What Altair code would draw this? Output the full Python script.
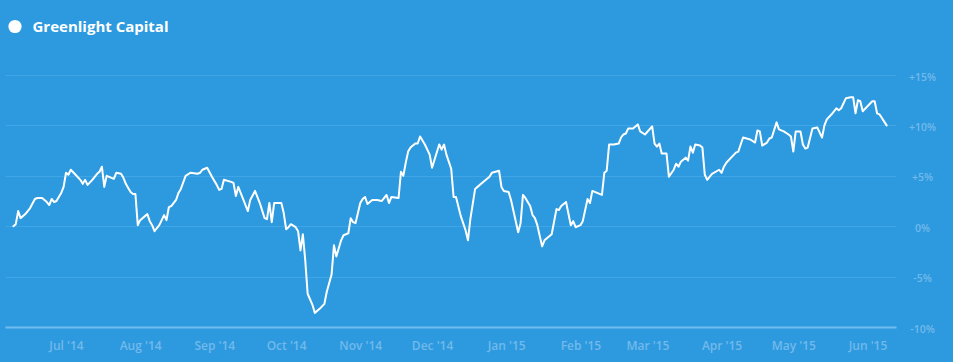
import altair as alt
import pandas as pd

series_name = "Greenlight Capital"

dates = [
    "2014-06-09", "2014-06-10", "2014-06-11", "2014-06-12", "2014-06-14", "2014-06-16", "2014-06-18", "2014-06-19",
    "2014-06-21", "2014-06-22", "2014-06-23", "2014-06-24", "2014-06-25", "2014-06-26", "2014-06-27", "2014-06-29",
    "2014-06-30", "2014-07-01", "2014-07-02", "2014-07-03", "2014-07-05", "2014-07-07", "2014-07-08", "2014-07-09",
    "2014-07-10", "2014-07-12", "2014-07-14", "2014-07-15", "2014-07-16", "2014-07-17", "2014-07-18", "2014-07-20",
    "2014-07-21", "2014-07-22", "2014-07-24", "2014-07-25", "2014-07-26", "2014-07-27", "2014-07-28", "2014-07-29",
    "2014-07-30", "2014-07-31", "2014-08-01", "2014-08-03", "2014-08-04", "2014-08-05", "2014-08-06", "2014-08-07",
    "2014-08-09", "2014-08-10", "2014-08-11", "2014-08-12", "2014-08-13", "2014-08-14", "2014-08-16", "2014-08-17",
    "2014-08-18", "2014-08-20", "2014-08-22", "2014-08-25", "2014-08-26", "2014-08-27", "2014-08-29", "2014-08-31",
    "2014-09-02", "2014-09-03", "2014-09-04", "2014-09-05", "2014-09-08", "2014-09-09", "2014-09-10", "2014-09-11",
    "2014-09-13", "2014-09-15", "2014-09-16", "2014-09-18", "2014-09-20", "2014-09-22", "2014-09-23", "2014-09-24",
    "2014-09-25", "2014-09-26", "2014-09-29", "2014-09-30", "2014-10-01", "2014-10-02", "2014-10-03", "2014-10-05",
    "2014-10-06", "2014-10-07", "2014-10-08", "2014-10-09", "2014-10-10", "2014-10-12", "2014-10-13", "2014-10-15",
    "2014-10-17", "2014-10-18", "2014-10-20", "2014-10-21", "2014-10-22", "2014-10-24", "2014-10-25", "2014-10-27",
    "2014-10-28", "2014-10-29", "2014-10-30", "2014-11-01", "2014-11-02", "2014-11-03", "2014-11-04", "2014-11-06",
    "2014-11-08", "2014-11-10", "2014-11-11", "2014-11-12", "2014-11-13", "2014-11-14", "2014-11-17", "2014-11-18",
    "2014-11-19", "2014-11-20", "2014-11-21", "2014-11-22", "2014-11-24", "2014-11-25", "2014-11-26", "2014-11-28",
    "2014-11-30", "2014-12-01", "2014-12-04", "2014-12-05", "2014-12-06", "2014-12-07", "2014-12-09", "2014-12-10",
    "2014-12-11", "2014-12-13", "2014-12-14", "2014-12-15", "2014-12-16", "2014-12-17", "2014-12-19", "2014-12-20",
    "2014-12-22", "2014-12-24", "2014-12-25", "2014-12-26", "2014-12-29", "2014-12-30", "2014-12-31", "2015-01-02",
    "2015-01-03", "2015-01-06", "2015-01-07", "2015-01-08", "2015-01-09", "2015-01-11", "2015-01-12", "2015-01-13",
    "2015-01-14", "2015-01-16", "2015-01-17", "2015-01-19", "2015-01-20", "2015-01-22", "2015-01-23", "2015-01-24",
    "2015-01-26", "2015-01-28", "2015-01-29", "2015-01-30", "2015-02-01", "2015-02-02", "2015-02-04", "2015-02-05",
    "2015-02-06", "2015-02-08", "2015-02-10", "2015-02-11", "2015-02-12", "2015-02-13", "2015-02-15", "2015-02-17",
    "2015-02-18", "2015-02-19", "2015-02-20", "2015-02-21", "2015-02-23", "2015-02-25", "2015-02-26", "2015-02-28",
    "2015-03-03", "2015-03-04", "2015-03-05", "2015-03-06", "2015-03-07", "2015-03-09", "2015-03-10", "2015-03-12",
    "2015-03-13", "2015-03-14", "2015-03-15", "2015-03-17", "2015-03-18", "2015-03-19", "2015-03-20", "2015-03-21",
    "2015-03-23", "2015-03-24", "2015-03-25", "2015-03-26", "2015-03-28", "2015-03-31", "2015-04-01", "2015-04-02",
    "2015-04-03", "2015-04-05", "2015-04-07", "2015-04-08", "2015-04-09", "2015-04-10", "2015-04-13", "2015-04-15",
    "2015-04-16", "2015-04-17", "2015-04-18", "2015-04-20", "2015-04-21", "2015-04-22", "2015-04-24", "2015-04-25",
    "2015-04-27", "2015-04-29", "2015-04-30", "2015-05-01", "2015-05-02", "2015-05-04", "2015-05-05", "2015-05-06",
    "2015-05-07", "2015-05-09", "2015-05-11", "2015-05-13", "2015-05-14", "2015-05-15", "2015-05-17", "2015-05-19",
    "2015-05-20", "2015-05-21", "2015-05-23", "2015-05-25", "2015-05-26", "2015-05-27", "2015-05-28", "2015-05-29",
    "2015-05-30", "2015-06-03", "2015-06-04", "2015-06-05", "2015-06-06", "2015-06-09",
]

values = [
    0.0, 0.2, 1.5, 0.8, 1.2, 1.8, 2.7, 2.8,
    2.8, 2.6, 2.4, 2.1, 2.7, 2.4, 2.5, 3.3,
    3.9, 5.3, 5.1, 5.6, 5.1, 4.6, 4.2, 4.6,
    4.1, 4.6, 5.2, 5.4, 5.9, 3.9, 5.0, 4.8,
    4.7, 5.3, 5.2, 4.8, 4.2, 3.8, 3.4, 3.2,
    3.2, 0.1, 0.6, 1.0, 1.2, 0.5, 0.1, -0.5,
    0.1, 0.6, 1.1, 0.6, 1.9, 2.0, 2.6, 3.3,
    3.7, 5.0, 5.3, 5.2, 5.3, 5.6, 5.8, 4.9,
    4.1, 3.6, 3.7, 4.6, 4.4, 4.3, 3.0, 3.9,
    2.7, 1.5, 2.6, 3.5, 2.3, 0.8, 0.7, 2.3,
    0.4, 2.3, 2.3, 1.3, -0.3, -0.1, 0.2, -0.1,
    -0.5, -2.4, -0.8, -3.4, -6.7, -7.8, -8.6, -8.2,
    -7.7, -6.5, -4.8, -1.9, -3.0, -1.4, -0.9, -0.7,
    0.8, 0.4, 0.3, 2.3, 2.7, 2.9, 2.2, 2.6,
    2.6, 2.5, 2.8, 3.1, 2.3, 2.9, 2.8, 5.4,
    5.0, 6.3, 7.4, 7.8, 8.2, 8.2, 8.9, 8.1,
    7.1, 5.8, 8.1, 7.6, 8.1, 7.1, 5.7, 2.9,
    2.9, 1.0, 0.3, -0.4, -1.4, 0.7, 3.7, 3.9,
    4.3, 4.7, 4.9, 5.3, 5.5, 3.9, 3.5, 3.4,
    2.6, -0.6, 0.3, 3.1, 2.8, 2.0, 1.1, 0.8,
    0.1, -2.0, -1.4, -1.0, -0.8, 1.7, 1.6, 2.0,
    2.4, 0.1, 0.5, -0.1, 0.1, 0.5, 2.7, 2.3,
    3.5, 3.3, 3.1, 5.3, 5.5, 8.1, 8.1, 8.2,
    8.8, 9.1, 9.2, 9.7, 9.7, 10.1, 9.4, 9.1,
    9.9, 8.2, 7.9, 8.2, 7.2, 7.2, 4.9, 5.6,
    6.2, 5.9, 6.4, 6.8, 6.5, 7.9, 7.3, 8.1,
    8.0, 7.8, 5.1, 4.6, 5.2, 5.6, 5.3, 5.9,
    6.3, 6.8, 7.3, 7.4, 8.1, 8.8, 8.6, 8.3,
    9.5, 9.4, 8.0, 8.3, 8.7, 8.8, 10.3, 9.6,
    9.4, 9.1, 8.9, 7.4, 9.4, 9.4, 8.1, 7.7,
    7.8, 9.7, 9.8, 8.8, 10.0, 10.6, 11.1, 11.7,
    11.5, 11.7, 12.7, 12.8, 12.8, 11.2, 12.5, 12.4,
    11.4, 12.4, 12.4, 11.2, 11.1, 10.0,
]

x_tick_dates = [
    "2014-07-01", "2014-08-01", "2014-09-01", "2014-10-01", "2014-11-01", "2014-12-01",
    "2015-01-01", "2015-02-01", "2015-03-01", "2015-04-01", "2015-05-01", "2015-06-01",
]
y_ticks = [-10, -5, 0, 5, 10, 15]
x_domain = ["2014-06-05T12:00:00", "2015-06-12T22:00:00"]

BG = "#2d9ae0"
GRID = "#40a5e5"
BASE = "#72bdf0"
LABEL = "#72b9ea"
FONT = "Open Sans"


def to_dt(s):
    ts = pd.Timestamp(s)
    return alt.DateTime(year=ts.year, month=ts.month, date=ts.day,
                        hours=ts.hour, utc=True)


df = pd.DataFrame({"date": dates, "value": values, "series": series_name})

chart = (
    alt.Chart(df)
    .mark_line(strokeWidth=2, strokeJoin="round", strokeCap="round")
    .encode(
        x=alt.X(
            "date:T",
            scale=alt.Scale(type="utc", domain=[to_dt(d) for d in x_domain]),
            axis=alt.Axis(
                values=[to_dt(d) for d in x_tick_dates],
                labelExpr="utcFormat(datum.value, \"%b '%y\")",
                title=None,
                grid=False,
                ticks=False,
                tickSize=0,
                domain=True,
                domainColor=BASE,
                domainWidth=2,
                labelColor=LABEL,
                labelFont=FONT,
                labelFontSize=12,
                labelFontWeight=600,
                labelBaseline="middle",
                labelPadding=18,
            ),
        ),
        y=alt.Y(
            "value:Q",
            scale=alt.Scale(domain=[-10, 15], nice=False, zero=False),
            axis=alt.Axis(
                orient="right",
                values=y_ticks,
                labelExpr="(datum.value > 0 ? '+' : '') + datum.value + '%'",
                title=None,
                grid=True,
                gridColor=GRID,
                gridWidth=1,
                ticks=False,
                tickSize=0,
                domain=False,
                labelColor=LABEL,
                labelFont=FONT,
                labelFontSize=10.5,
                labelFontWeight=600,
                labelAlign="center",
                labelBaseline="middle",
                labelPadding=26,
                labelOffset=2,
            ),
        ),
        color=alt.Color(
            "series:N",
            scale=alt.Scale(range=["#ffffff"]),
            legend=alt.Legend(
                orient="none",
                legendX=2.5,
                legendY=-56,
                title=None,
                symbolType="circle",
                symbolSize=175,
                symbolFillColor="#ffffff",
                symbolStrokeWidth=0,
                labelColor="#ffffff",
                labelFont=FONT,
                labelFontSize=15,
                labelFontWeight="bold",
                labelOffset=10,
                padding=0,
            ),
        ),
    )
    .properties(
        width=891,
        height=252,
        background=BG,
        padding={"left": 5, "top": 75, "right": 57, "bottom": 35},
        autosize=alt.AutoSizeParams(type="none"),
    )
    .configure_view(stroke=None)
)

chart.save("out.html", embed_options={"renderer": "svg", "actions": False})
